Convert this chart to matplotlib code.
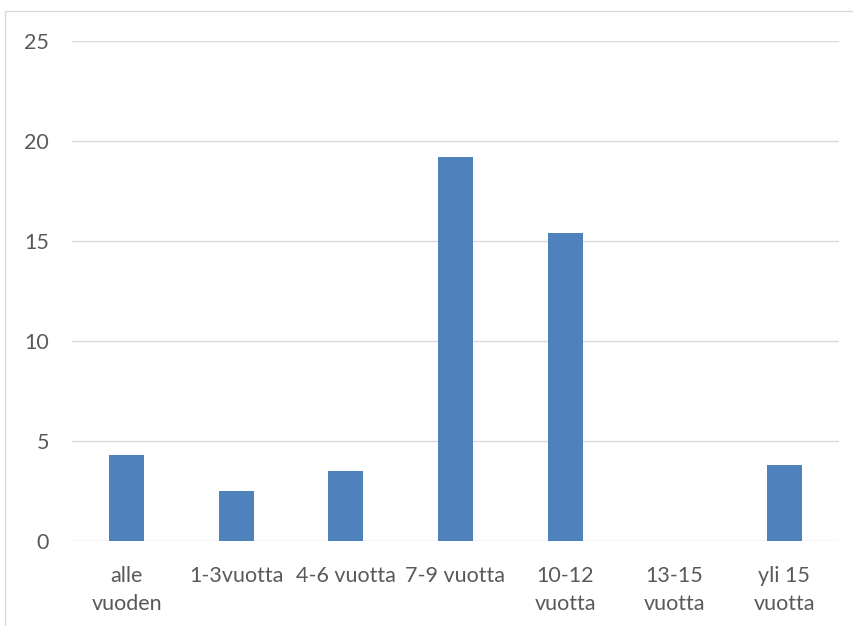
import matplotlib
matplotlib.use("Agg")
import matplotlib.pyplot as plt
from matplotlib.patches import Rectangle
import numpy as np

categories = ["alle\nvuoden", "1-3vuotta", "4-6 vuotta", "7-9 vuotta",
              "10-12\nvuotta", "13-15\nvuotta", "yli 15\nvuotta"]
values = [4.3, 2.5, 3.5, 19.2, 15.4, 0.0, 3.8]
yticks = [0, 5, 10, 15, 20, 25]

W, H = 854, 626
fig = plt.figure(figsize=(W / 100, H / 100), dpi=100)
fig.patch.set_facecolor("white")

# outer chart frame
fig.add_artist(Rectangle((5 / W, -0.1), 1.2, 1 - 11 / H + 0.1,
                         transform=fig.transFigure, fill=False,
                         edgecolor="#d9d9d9", linewidth=1.0))

left, right = 72 / W, 839 / W
bottom, top = 1 - 541 / H, 1 - 41 / H
ax = fig.add_axes([left, bottom, right - left, top - bottom])

x = np.arange(len(categories))
ax.bar(x, values, width=0.32, color="#4f81bd", zorder=3)

ax.set_xlim(-0.5, len(categories) - 0.5)
ax.set_ylim(0, 25)
ax.set_yticks(yticks)
ax.set_xticks(x)

font = "Lato"
ax.set_xticklabels(categories, fontsize=15.5, color="#595959", family=font,
                   linespacing=1.5)
ax.set_yticklabels([str(v) for v in yticks], fontsize=15.5, color="#595959",
                   family=font)

ax.grid(axis="y", color="#d9d9d9", linewidth=1.0, zorder=0)
for s in ax.spines.values():
    s.set_visible(False)
ax.tick_params(axis="both", length=0)
ax.tick_params(axis="y", pad=16.5)
ax.tick_params(axis="x", pad=18)

fig.savefig("out.png", dpi=100, facecolor="white")
